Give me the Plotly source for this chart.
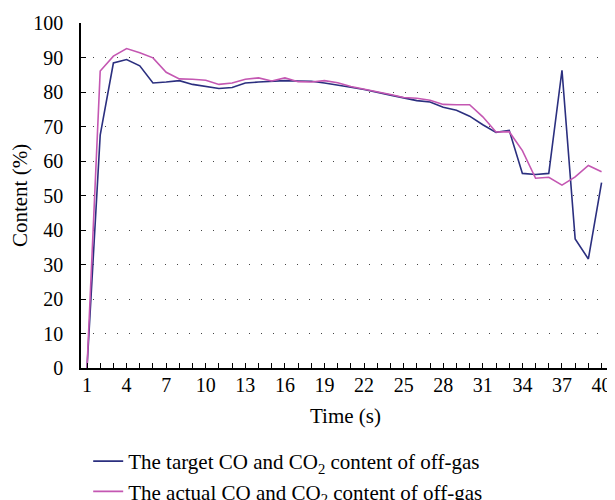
import plotly.graph_objects as go

time_s = list(range(1, 41))
target = [0, 67.5, 88.4, 89.4, 87.6, 82.6, 82.9, 83.3, 82.2, 81.5,
          81.0, 81.3, 82.6, 82.9, 83.2, 83.3, 83.2, 83.1, 82.6, 82.1,
          81.4, 80.7, 79.8, 79.1, 78.3, 77.5, 77.1, 75.6, 74.7, 73.0,
          70.5, 68.3, 68.9, 56.4, 56.1, 56.4, 86.3, 37.4, 31.6, 53.7]
actual = [0, 86.1, 90.4, 92.6, 91.4, 89.9, 85.7, 83.8, 83.7, 83.4,
          82.2, 82.6, 83.7, 84.1, 83.2, 84.1, 83.0, 82.9, 83.3, 82.7,
          81.6, 80.9, 80.1, 79.3, 78.4, 78.2, 77.6, 76.4, 76.3, 76.3,
          72.8, 68.4, 68.5, 63.0, 55.0, 55.3, 53.0, 55.4, 58.7, 56.9]
x_tickvals = list(range(1, 41, 3))
y_tickvals = list(range(0, 101, 10))
names = ["The target CO and CO<sub>2</sub> content of off-gas",
         "The actual CO and CO<sub>2</sub> content of off-gas"]
colors = ["#2B2F7F", "#C457B2"]

FONT = "Liberation Serif"

fig = go.Figure()
fig.add_trace(go.Scatter(x=time_s, y=target, mode="lines", name=names[0],
                         line=dict(color=colors[0], width=1.6)))
fig.add_trace(go.Scatter(x=time_s, y=actual, mode="lines", name=names[1],
                         line=dict(color=colors[1], width=1.6)))

# page body has an 8px margin, so the figure is 8px smaller than the window
fig.update_layout(
    width=607, height=492,
    margin=dict(l=72.7, r=5, t=14.7, b=131.7, autoexpand=False),
    paper_bgcolor="white", plot_bgcolor="white",
    font=dict(family=FONT, size=20, color="black"),
    showlegend=True,
    legend=dict(xref="paper", yref="paper", x=0.0136, y=-0.2115,
                xanchor="left", yanchor="top", bgcolor="rgba(0,0,0,0)",
                font=dict(family=FONT, size=21), tracegroupgap=0,
                itemwidth=30),
    xaxis=dict(range=[0.545, 40.64], showline=True, linecolor="black",
               linewidth=1.5, showgrid=False, zeroline=False, automargin=False,
               tickmode="array", tickvals=x_tickvals, tickangle=0,
               ticks="inside", ticklen=5, tickwidth=1, tickcolor="black",
               ticklabelstandoff=-2,
               minor=dict(tickmode="linear", tick0=1, dtick=1, ticks="inside",
                          ticklen=5, tickwidth=1, tickcolor="black", showgrid=False),
               title=dict(text="Time (s)", standoff=14,
                          font=dict(family=FONT, size=21))),
    yaxis=dict(range=[0, 100], showline=True, linecolor="black",
               linewidth=1.5, zeroline=False, automargin=False,
               tickmode="array", tickvals=y_tickvals,
               ticks="inside", ticklen=5, tickwidth=1, tickcolor="black",
               ticklabelstandoff=12,
               showgrid=True, gridcolor="#444444", gridwidth=1.3,
               griddash="1px,11px",
               title=dict(text="Content (%)", standoff=12,
                          font=dict(family=FONT, size=21))),
)

fig.write_html("out.html")
